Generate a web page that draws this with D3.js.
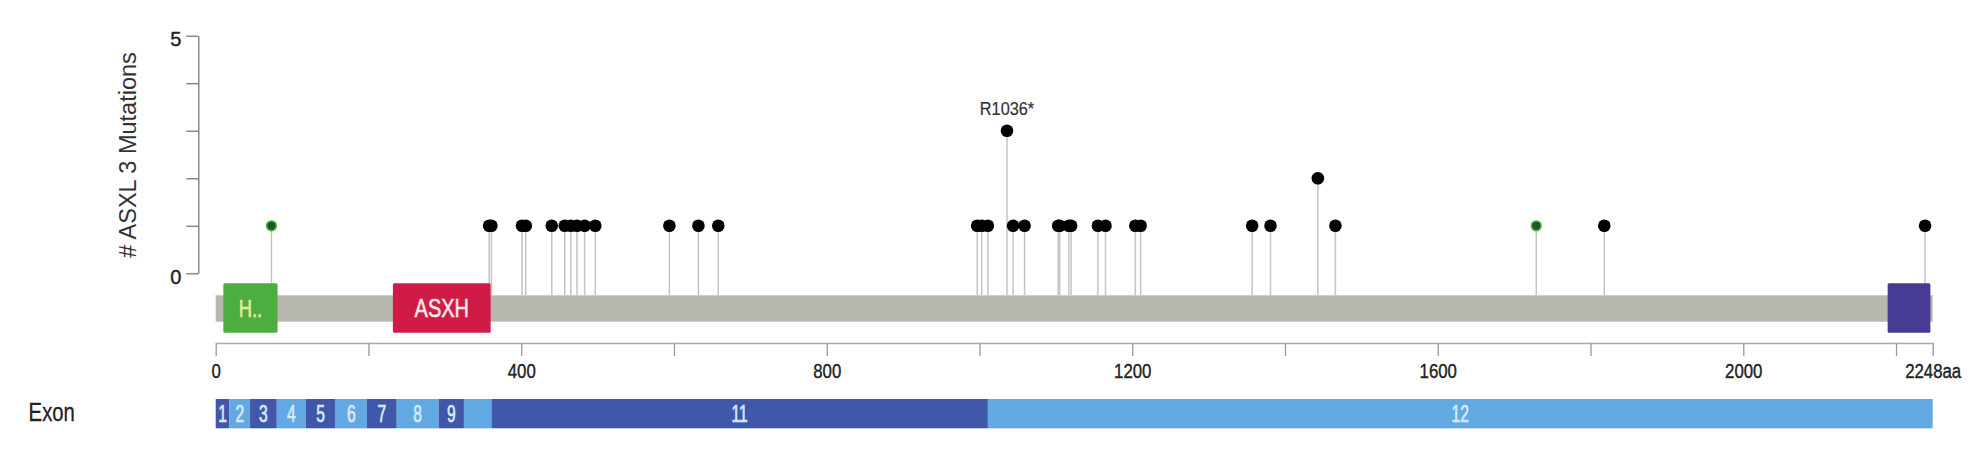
<!DOCTYPE html>
<html><head><meta charset="utf-8">
<script src="https://cdn.jsdelivr.net/npm/d3@7"></script>
<style>
body{margin:0;background:#fff}
svg{display:block}
text{font-family:"Liberation Sans",Arial,sans-serif}
</style>
</head><body>
<svg id="chart" width="1986" height="462"></svg>
<script>
// ---------- data ----------
const proteinLength = 2248;
const mutationPositions = [73,358,361,401,406,440,457,465,473,483,497,594,632,658,997,1003,1011,1036,1044,1059,1103,1105,1117,1120,1155,1165,1204,1211,1357,1381,1443,1466,1729,1818,2238];
const mutationCounts    = [1,1,1,1,1,1,1,1,1,1,1,1,1,1,1,1,1,3,1,1,1,1,1,1,1,1,1,1,1,1,2,1,1,1,1];
const mutationTypes     = ["missense","truncating","truncating","truncating","truncating","truncating","truncating","truncating","truncating","truncating","truncating","truncating","truncating","truncating","truncating","truncating","truncating","truncating","truncating","truncating","truncating","truncating","truncating","truncating","truncating","truncating","truncating","truncating","truncating","truncating","truncating","truncating","missense","truncating","truncating"];
const labelPositions = [1036];
const labelTexts = ["R1036*"];
const domainNames  = ["H..","ASXH",""];
const domainStarts = [10,232,2189];
const domainEnds   = [81,360,2245];
const domainColors = ["#4cad41","#cf1b45","#473c93"];
const exonNames  = ["1","2","3","4","5","6","7","8","9","","11","12"];
const exonStarts = [0,18,45,80,118,157,198,237,292,325,361,1011];
const exonEnds   = [18,45,80,118,157,198,237,292,325,361,1011,2248];
const xTickValues = [0,200,400,600,800,1000,1200,1400,1600,1800,2000,2200,2248];
const xTickLabels = ["0","","400","","800","","1200","","1600","","2000","","2248aa"];
const yTickValues = [0,1,2,3,4,5];
const yTickLabels = ["0","","","","","5"];
const yTitle = "# ASXL 3 Mutations";
const exonTitle = "Exon";

// ---------- layout ----------
const svg = d3.select("#chart");
const x = d3.scaleLinear().domain([0, proteinLength]).range([215.7, 1932.7]);
const y = d3.scaleLinear().domain([0, 5]).range([273.3, 35.7]);
const barTop = 295, barH = 26.7;
const domTop = 283.3, domH = 49.4;
const axisY = 343;
const exonTop = 399, exonH = 29.3;
const SX = 0.8;

function ctext(g, px, py, str, size, color, sx, sw) {
  return g.append("g").attr("transform", `translate(${px},${py}) scale(${sx},1)`)
    .append("text").attr("text-anchor", "middle")
    .attr("font-size", size).attr("fill", color)
    .attr("stroke", color).attr("stroke-width", sw || 0)
    .text(str);
}

// y axis
const yAxis = d3.axisLeft(y).tickValues(yTickValues).tickSize(12).tickSizeOuter(0)
  .tickFormat((d,i) => yTickLabels[i]);
const gy = svg.append("g").attr("transform", "translate(198.3,0)").call(yAxis);
gy.select(".domain").attr("stroke", "#777").attr("stroke-width", 1.3);
gy.selectAll(".tick line").attr("stroke", "#777").attr("stroke-width", 1.3);
gy.selectAll(".tick text").attr("font-size", 20).attr("fill", "#222")
  .attr("stroke", "#222").attr("stroke-width", 0.4)
  .attr("x", -17).attr("dy", "0.5em").attr("font-family", "Liberation Sans, Arial, sans-serif");

// y title
svg.append("text").attr("transform", "translate(136,155) rotate(-90)")
  .attr("text-anchor", "middle").attr("font-size", 23.5).attr("fill", "#333").text(yTitle);

// stems
const muts = mutationPositions.map((p,i) => ({p, c: mutationCounts[i], t: mutationTypes[i]}));
svg.append("g").selectAll("line").data(muts).join("line")
  .attr("x1", d => x(d.p)).attr("x2", d => x(d.p))
  .attr("y1", d => y(d.c)).attr("y2", barTop + 2)
  .attr("stroke", "#c4c4c4").attr("stroke-width", 1.5);

// protein bar
svg.append("rect").attr("x", x(0)).attr("y", barTop).attr("width", x(proteinLength) - x(0))
  .attr("height", barH).attr("fill", "#b8b7ad");
svg.append("line").attr("x1", x(0)).attr("x2", x(proteinLength)).attr("y1", barTop+0.5).attr("y2", barTop+0.5)
  .attr("stroke", "#cfcdc6").attr("stroke-width", 1);

// domains
const doms = domainNames.map((n,i) => ({n, s: domainStarts[i], e: domainEnds[i], c: domainColors[i]}));
svg.append("g").selectAll("rect").data(doms).join("rect")
  .attr("x", d => x(d.s)).attr("y", domTop).attr("width", d => x(d.e) - x(d.s))
  .attr("height", domH).attr("fill", d => d.c).attr("rx", 1.5);
doms.forEach((d,i) => {
  if (!d.n) return;
  ctext(svg, (x(d.s)+x(d.e))/2, domTop + domH/2 + 9, d.n, i === 1 ? 25 : 23,
        i === 1 ? "#f7ecec" : "#eeeb9a", SX, 0.5);
});

// dots
svg.append("g").selectAll("circle").data(muts).join("circle")
  .attr("cx", d => x(d.p)).attr("cy", d => y(d.c))
  .attr("r", d => d.t === "missense" ? 4.8 : 6.3)
  .attr("fill", d => d.t === "missense" ? "#1c5a1f" : "#000")
  .attr("stroke", d => d.t === "missense" ? "#45b045" : "none")
  .attr("stroke-width", 1.6);

// labels
labelPositions.forEach((p,i) => {
  const c = mutationCounts[mutationPositions.indexOf(p)];
  ctext(svg, x(p), y(c) - 16, labelTexts[i], 18.5, "#333", 0.88, 0.2);
});

// x axis
const xAxis = d3.axisBottom(x).tickValues(xTickValues).tickSize(13).tickSizeOuter(0)
  .tickFormat((d,i) => xTickLabels[i]);
const gx = svg.append("g").attr("transform", `translate(0,${axisY})`).call(xAxis);
gx.select(".domain").attr("stroke", "#aaa").attr("stroke-width", 1.6);
gx.selectAll(".tick line").attr("stroke", "#999").attr("stroke-width", 1.3);
gx.selectAll(".tick text").attr("font-size", 21).attr("fill", "#222")
  .attr("stroke", "#222").attr("stroke-width", 0.4)
  .attr("y", 35).attr("dy", 0).attr("transform", `scale(${SX},1)`)
  .attr("font-family", "Liberation Sans, Arial, sans-serif");

// exons
ctext(svg, 51.7, 420.7, exonTitle, 26, "#222", 0.78, 0.3);
const exons = exonNames.map((n,i) => ({n, s: exonStarts[i], e: exonEnds[i], i}));
svg.append("g").selectAll("rect").data(exons).join("rect")
  .attr("x", d => x(d.s)).attr("y", exonTop).attr("width", d => x(d.e) - x(d.s))
  .attr("height", exonH).attr("fill", d => d.i % 2 === 0 ? "#3f58a9" : "#62a9e3");
exons.forEach(d => {
  if (!d.n) return;
  ctext(svg, (x(d.s)+x(d.e))/2, exonTop + exonH/2 + 8.5, d.n, 23, "#dce9f8", 0.68, 0.7);
});
</script>
</body></html>
